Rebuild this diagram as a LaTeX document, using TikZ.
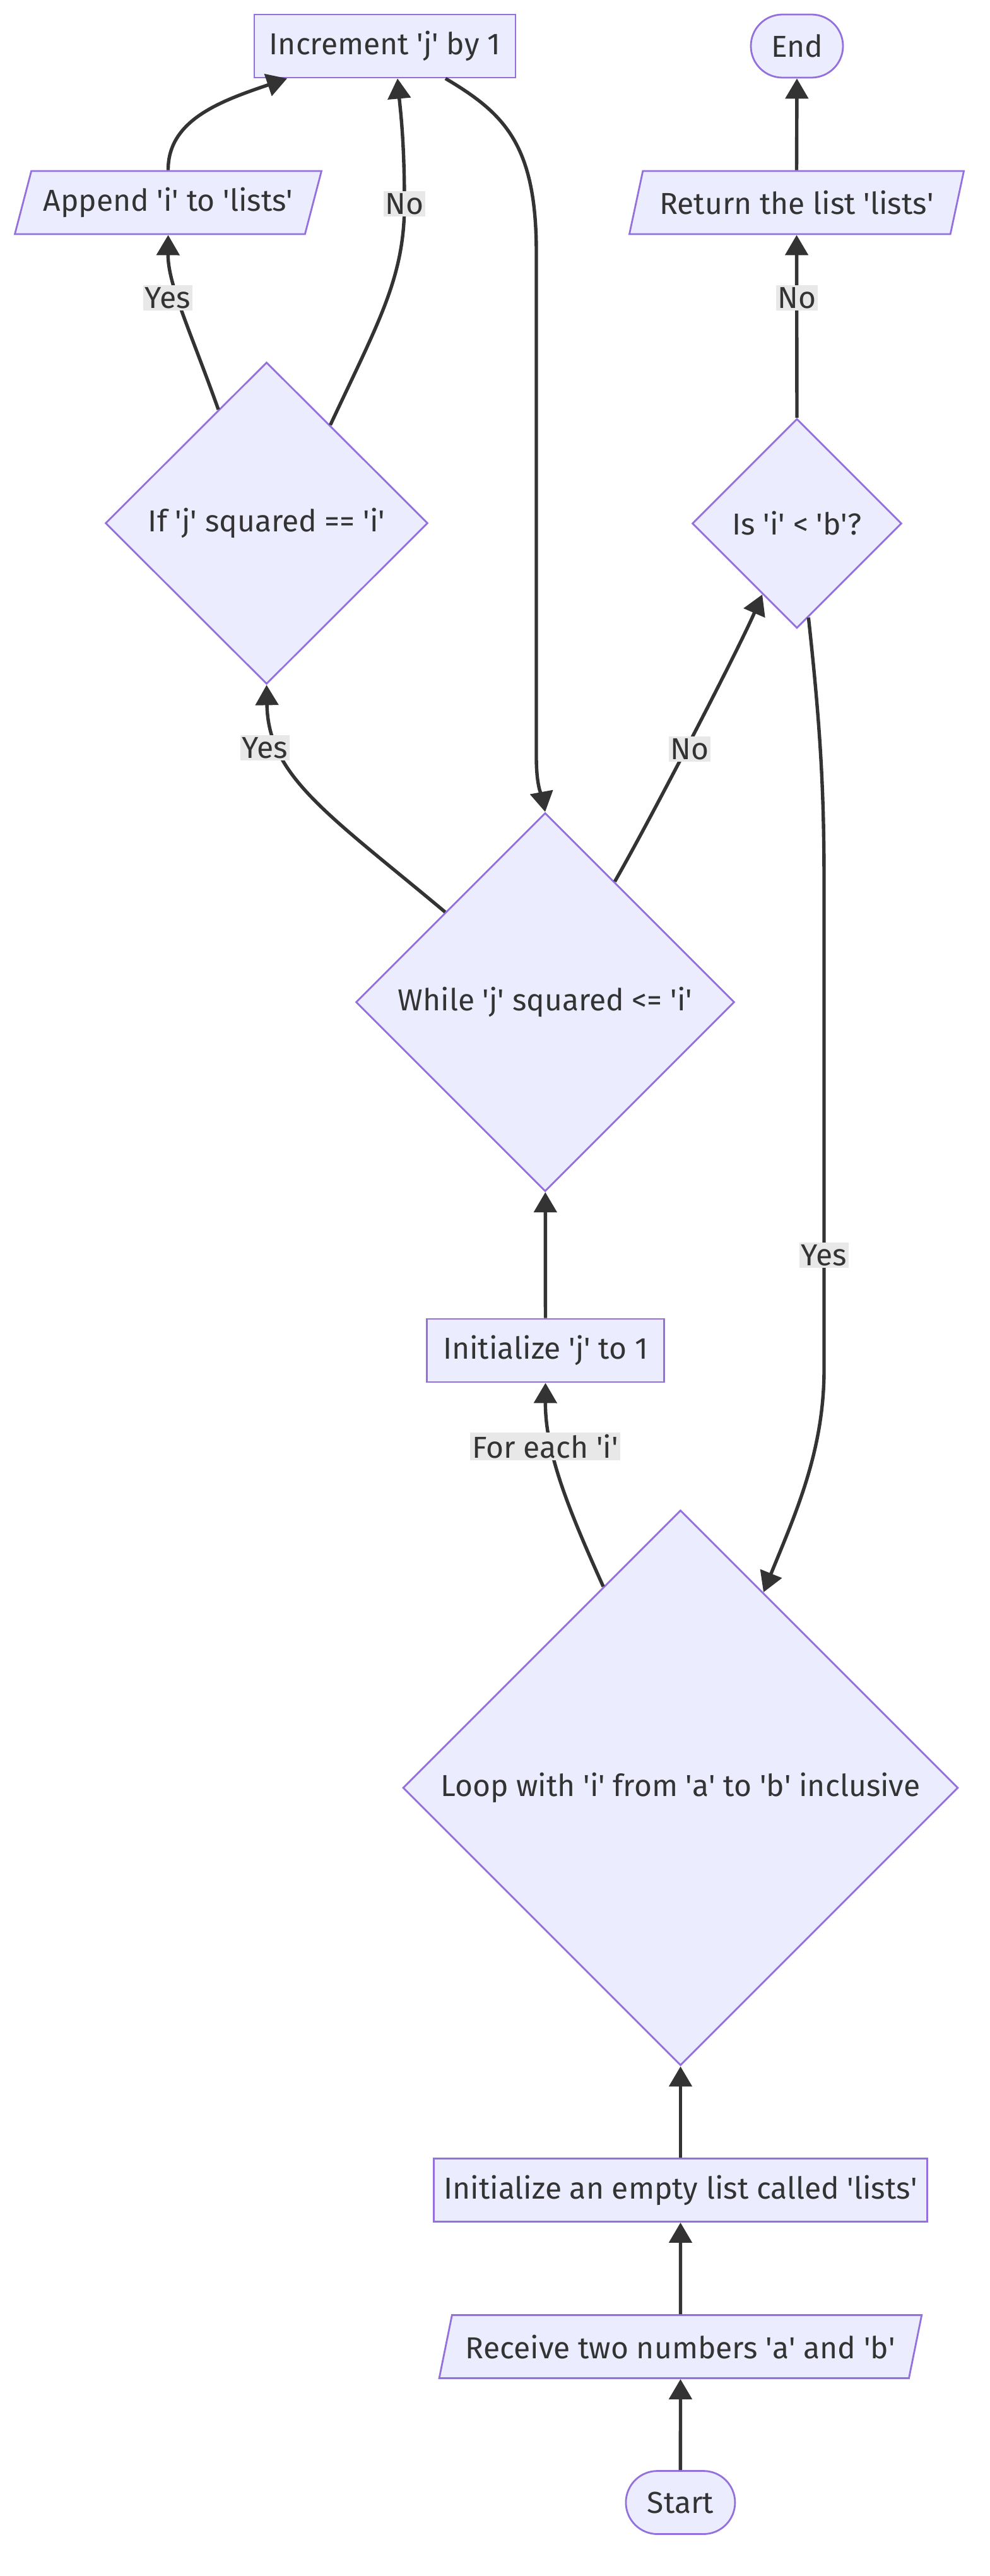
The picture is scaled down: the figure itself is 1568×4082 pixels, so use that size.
\documentclass[tikz,border=0pt]{standalone}
\usepackage{fontspec}
\setmainfont{Fira Sans}
\usetikzlibrary{shapes.geometric,arrows.meta}
\definecolor{nfill}{HTML}{ECECFF}
\definecolor{nstroke}{HTML}{9370DB}
\definecolor{ink}{HTML}{333333}
\definecolor{lbg}{HTML}{E8E8E8}
\newcommand{\q}{\textquotesingle}
\begin{document}
\begin{tikzpicture}[x=0.5pt,y=-0.5pt,
 every node/.style={font=\fontsize{24pt}{28pt}\selectfont, text=ink},
 box/.style={draw=nstroke, fill=nfill, line width=1.4pt, minimum height=50pt, inner sep=0pt},
 term/.style={box, rounded corners=25pt},
 para/.style={box, trapezium, trapezium left angle=63.4, trapezium right angle=116.6, trapezium stretches=true},
 dec/.style={box, diamond, aspect=1},
 conn/.style={draw=ink, line width=2.7pt, -{Triangle[length=16pt,width=18pt]}},
 elabel/.style={fill=lbg, inner sep=1.5pt}]
\useasboundingbox (0,0) rectangle (1568,4082);

\node[box, minimum width=207pt] (inc) at (610,73) {Increment \q j\q{} by 1};
\node[term, minimum width=73pt] (endn) at (1263,73) {End};
\node[para, minimum width=243.5pt] (app) at (266.5,321) {Append \q i\q{} to \q lists\q};
\node[para, minimum width=265.5pt] (ret) at (1262.5,321) {Return the list \q lists\q};
\node[dec, minimum width=255.5pt, minimum height=255pt] (ifd) at (422.5,829) {If \q j\q{} squared == \q i\q};
\node[dec, minimum width=166pt, minimum height=166pt] (isd) at (1263,829.5) {Is \q i\q{} < \q b\q?};
\node[dec, minimum width=300pt, minimum height=300pt] (whiled) at (864,1588) {While \q j\q{} squared <= \q i\q};
\node[box, minimum width=188pt] (initj) at (864.5,2140) {Initialize \q j\q{} to 1};
\node[dec, minimum width=440pt, minimum height=440pt] (loopd) at (1078.5,2833) {Loop with \q i\q{} from \q a\q{} to \q b\q{} inclusive};
\node[box, minimum width=391pt] (initl) at (1078.5,3470.5) {Initialize an empty list called \q lists\q};
\node[para, minimum width=383pt] (recv) at (1078.4,3718.6) {Receive two numbers \q a\q{} and \q b\q};
\node[term, minimum width=86.5pt] (start) at (1078.4,3965.5) {Start};

\draw[conn] (start) -- (recv);
\draw[conn] (recv) -- (initl);
\draw[conn] (initl) -- (loopd);
\draw[conn] (loopd.111.7) .. controls (900,2390) and (864,2300) .. (initj.south);
\draw[conn] (initj) -- (whiled);
\draw[conn] (whiled.138) .. controls (520,1290) and (425,1230) .. (ifd.south);
\draw[conn] (whiled.60.1) .. controls (1030,1300) and (1170,1030) .. (isd.244.8);
\draw[conn] (ifd.113.4) .. controls (300,520) and (266,450) .. (app.center |- app.south);
\draw[conn] (ifd.57.6) .. controls (600,510) and (641,440) .. (641,323) .. controls (641,220) and (634,170) .. ([xshift=10pt]inc.south);
\draw[conn] (app.center |- app.north) .. controls (266,190) and (350,160) .. ([xshift=-77.5pt]inc.south);
\draw[conn] ([xshift=48pt]inc.south) .. controls (800,180) and (850,230) .. (850,400) -- (850,1200) .. controls (850,1250) and (860,1265) .. (whiled.north);
\draw[conn] (isd.north) -- (ret.center |- ret.south);
\draw[conn] (ret.center |- ret.north) -- (endn.south);
\draw[conn] (isd.277.3) .. controls (1300,1150) and (1306,1250) .. (1306,1400) -- (1306,2170) .. controls (1306,2300) and (1260,2400) .. (loopd.67.2);

\node[elabel] (lfor) at (864,2292) {For each \q i\q};
\node[elabel] (lyes1) at (420,1185) {Yes};
\node[elabel] (lno1) at (1093,1187) {No};
\node[elabel] (lyes2) at (266,472) {Yes};
\node[elabel] (lno2) at (641,323) {No};
\node[elabel] (lno3) at (1263,472) {No};
\node[elabel] (lyes3) at (1306,1989) {Yes};
\end{tikzpicture}
\end{document}
